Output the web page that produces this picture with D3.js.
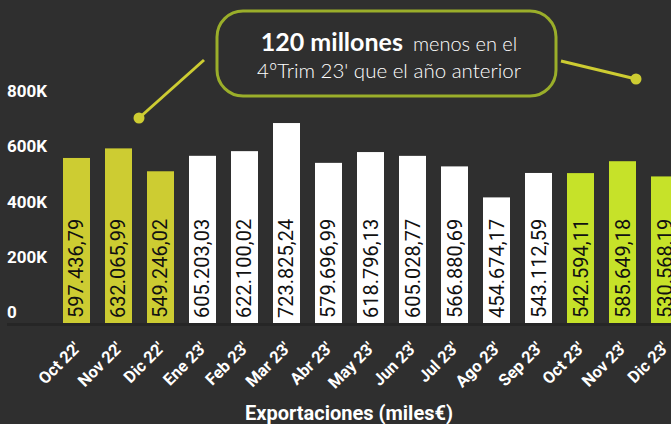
<!DOCTYPE html>
<html>
<head>
<meta charset="utf-8">
<script src="https://cdn.jsdelivr.net/npm/d3@7"></script>
<style>
  html, body { margin: 0; padding: 0; background: #2f2f2f; }
  svg { display: block; }
</style>
</head>
<body>
<svg id="chart" width="671" height="424"></svg>
<script>
// data
const months = ["Oct 22'", "Nov 22'", "Dic 22'", "Ene 23'", "Feb 23'", "Mar 23'", "Abr 23'", "May 23'",
  "Jun 23'", "Jul 23'", "Ago 23'", "Sep 23'", "Oct 23'", "Nov 23'", "Dic 23'"]
const values = [597436.79, 632065.99, 549246.02, 605203.03, 622100.02, 723825.24, 579696.99, 618796.13,
  605028.77, 566880.69, 454674.17, 543112.59, 542594.11, 585649.18, 530568.19]
const groups = ["q22", "q22", "q22", "mid", "mid", "mid", "mid", "mid", "mid", "mid", "mid", "mid", "q23", "q23", "q23"]
const yTicks = [0, 200000, 400000, 600000, 800000]
const yTickLabels = ["0", "200K", "400K", "600K", "800K"]

const colors = { q22: "#cdcc32", mid: "#ffffff", q23: "#c6e229" }

const svg = d3.select("#chart")
const W = 671, H = 424

svg.append("rect").attr("width", W).attr("height", H).attr("fill", "#2f2f2f")

const x = d3.scaleBand().domain(months).range([48, 693]).padding(0.357)
const y = d3.scaleLinear().domain([0, 800000]).range([323, 102])

// y labels (sit a bit above their value)
svg.append("g").selectAll("text")
  .data(yTicks)
  .join("text")
  .attr("x", 7)
  .attr("y", d => y(d) - 11)
  .attr("dy", "0.36em")
  .attr("fill", "#ffffff")
  .attr("font-family", "Roboto")
  .attr("font-weight", "bold")
  .attr("font-size", 17)
  .text((d, i) => yTickLabels[i])

// baseline
svg.append("line")
  .attr("x1", 7).attr("x2", W)
  .attr("y1", y(0) + 1.5).attr("y2", y(0) + 1.5)
  .attr("stroke", "#262626").attr("stroke-width", 3)

// bars
svg.append("g").selectAll("rect")
  .data(values)
  .join("rect")
  .attr("x", (d, i) => x(months[i]))
  .attr("y", d => y(d))
  .attr("width", x.bandwidth())
  .attr("height", d => y(0) - y(d))
  .attr("fill", (d, i) => colors[groups[i]])

const fmt = d3.formatLocale({ decimal: ",", thousands: ".", grouping: [3], currency: ["", "€"] }).format(",.2f")

// value labels inside bars
svg.append("g").selectAll("text")
  .data(values)
  .join("text")
  .attr("transform", (d, i) => `translate(${x(months[i]) + x.bandwidth() / 2 + 7},${y(0) - 5}) rotate(-90)`)
  .attr("fill", "#111")
  .attr("font-family", "Roboto")
  .attr("font-size", 20)
  .text(d => fmt(d))

// x labels
svg.append("g").selectAll("text")
  .data(months)
  .join("text")
  .attr("transform", d => `translate(${x(d) + x.bandwidth() / 2 + 5},${y(0) + 26}) rotate(-45)`)
  .attr("text-anchor", "end")
  .attr("fill", "#ffffff")
  .attr("font-family", "Roboto")
  .attr("font-weight", "bold")
  .attr("font-size", 16.5)
  .text(d => d)

// axis title
svg.append("text")
  .attr("x", 349).attr("y", 420)
  .attr("text-anchor", "middle")
  .attr("fill", "#ffffff")
  .attr("font-family", "Roboto")
  .attr("font-weight", "bold")
  .attr("font-size", 20)
  .text("Exportaciones (miles€)")

// callout
const lineCol = "#cdcc32"
svg.append("line").attr("x1", 204).attr("y1", 60).attr("x2", 139).attr("y2", 118)
  .attr("stroke", lineCol).attr("stroke-width", 3)
svg.append("circle").attr("cx", 139).attr("cy", 118).attr("r", 5.5).attr("fill", lineCol)
svg.append("line").attr("x1", 561).attr("y1", 61).attr("x2", 636).attr("y2", 79)
  .attr("stroke", lineCol).attr("stroke-width", 3)
svg.append("circle").attr("cx", 636).attr("cy", 79).attr("r", 5.5).attr("fill", lineCol)

svg.append("rect")
  .attr("x", 217).attr("y", 11).attr("width", 339).attr("height", 85)
  .attr("rx", 26).attr("ry", 26)
  .attr("fill", "#2f2f2f")
  .attr("stroke", "#9aae2a").attr("stroke-width", 3)

const t1 = svg.append("text")
  .attr("x", 389).attr("y", 51)
  .attr("text-anchor", "middle")
  .attr("fill", "#ffffff")
  .attr("font-family", "Lato")
t1.append("tspan").attr("font-weight", "bold").attr("font-size", 25).text("120 millones")
t1.append("tspan").attr("font-weight", 300).attr("font-size", 20).attr("dx", 10).text("menos en el")

svg.append("text")
  .attr("x", 389).attr("y", 78)
  .attr("text-anchor", "middle")
  .attr("fill", "#ffffff")
  .attr("font-family", "Lato")
  .attr("font-weight", 300)
  .attr("font-size", 20.5)
  .text("4ºTrim 23' que el año anterior")
</script>
</body>
</html>
